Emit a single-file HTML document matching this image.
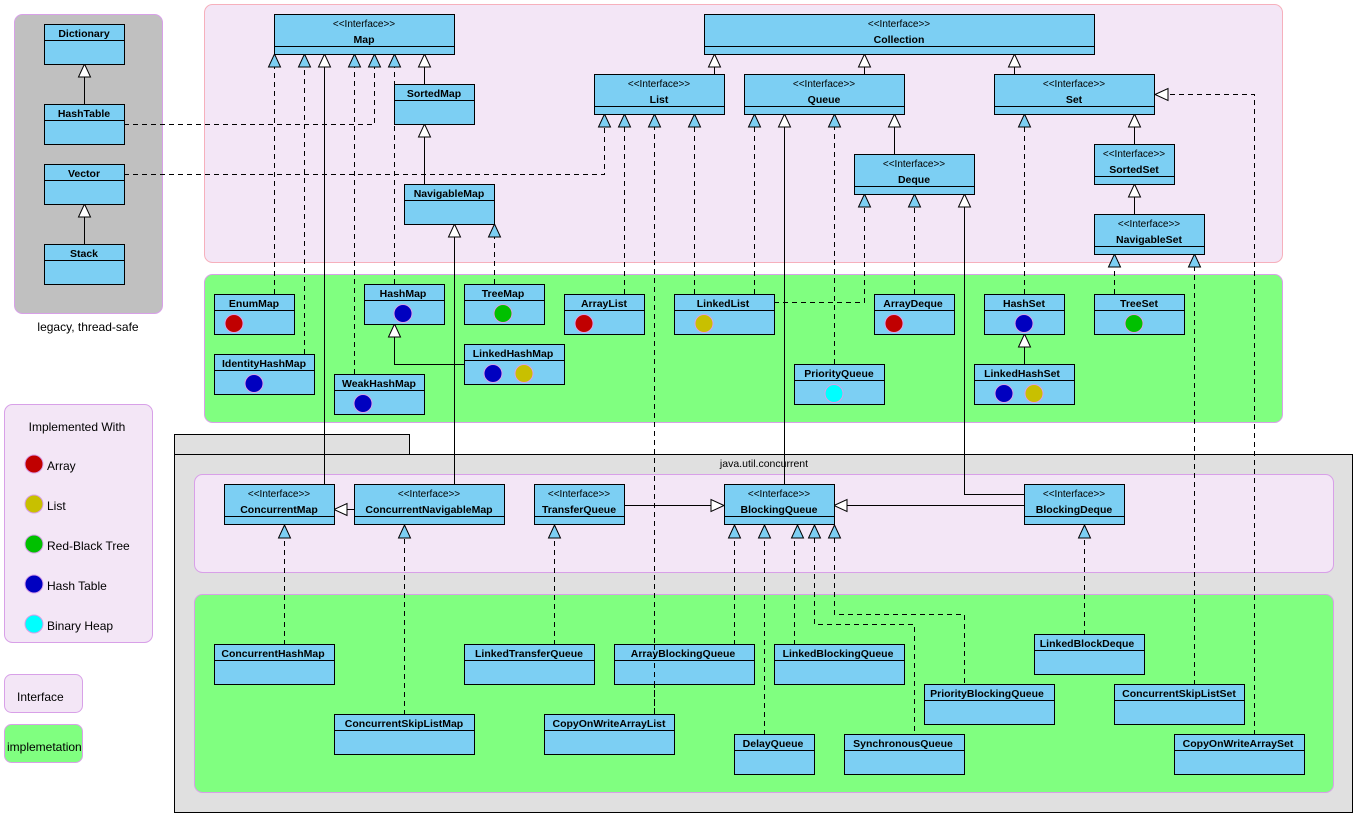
<!DOCTYPE html>
<html><head><meta charset="utf-8"><style>
html,body{margin:0;padding:0;background:#fff;}
svg{display:block;font-family:"Liberation Sans",sans-serif;}
.b{fill:#7ccff3;stroke:#000;stroke-width:1;}
.n{font-size:10.5px;font-weight:bold;text-anchor:middle;fill:#000;}
.s{font-size:10px;text-anchor:middle;fill:#000;}
.d{stroke:#000;fill:none;stroke-dasharray:5,4;}
.l{stroke:#000;fill:none;}
.tw{fill:#fff;stroke:#000;}
.tb{fill:#7ccff3;stroke:#000;}
.lg{font-size:12px;fill:#000;}
</style></head><body>
<svg width="1359" height="820" viewBox="0 0 1359 820" xmlns="http://www.w3.org/2000/svg">
<rect x="14.5" y="14.5" width="148" height="299" rx="8" fill="#c0c0c0" stroke="#d8a0e8"/>
<text x="88" y="331" class="lg" text-anchor="middle">legacy, thread-safe</text>
<rect x="204.5" y="4.5" width="1078" height="258" rx="8" fill="#f3e6f6" stroke="#f6b0bc"/>
<rect x="204.5" y="274.5" width="1078" height="148" rx="8" fill="#80ff80" stroke="#d8a0e8"/>
<rect x="4.5" y="404.5" width="148" height="238" rx="8" fill="#f3e6f6" stroke="#d8a0e8"/>
<text x="77" y="431" class="lg" text-anchor="middle">Implemented With</text>
<circle cx="34" cy="464" r="9" fill="#c00000" stroke="#d8a0e8"/><text x="47" y="470" class="lg">Array</text>
<circle cx="34" cy="504" r="9" fill="#c8c000" stroke="#d8a0e8"/><text x="47" y="510" class="lg">List</text>
<circle cx="34" cy="544" r="9" fill="#00c000" stroke="#d8a0e8"/><text x="47" y="550" class="lg">Red-Black Tree</text>
<circle cx="34" cy="584" r="9" fill="#0000c0" stroke="#d8a0e8"/><text x="47" y="590" class="lg">Hash Table</text>
<circle cx="34" cy="624" r="9" fill="#00ffff" stroke="#d8a0e8"/><text x="47" y="630" class="lg">Binary Heap</text>
<rect x="4.5" y="674.5" width="78" height="38" rx="7" fill="#f3e6f6" stroke="#d8a0e8"/>
<text x="17" y="701" class="lg">Interface</text>
<rect x="4.5" y="724.5" width="78" height="38" rx="7" fill="#80ff80" stroke="#d8a0e8"/>
<text x="7" y="751" class="lg">implemetation</text>
<rect x="174.5" y="434.5" width="235" height="20" fill="#e0e0e0" stroke="#000"/>
<rect x="174.5" y="454.5" width="1178" height="358" fill="#e0e0e0" stroke="#000"/>
<text x="764" y="467" font-size="10.5" text-anchor="middle">java.util.concurrent</text>
<rect x="194.5" y="474.5" width="1139" height="98" rx="8" fill="#f3e6f6" stroke="#d8a0e8"/>
<rect x="194.5" y="594.5" width="1139" height="198" rx="8" fill="#80ff80" stroke="#d8a0e8"/>

<g>
<path class="l" d="M84.5 77V104M84.5 217V244"/>
<path class="d" d="M124 124.5H374.5V67"/>
<path class="d" d="M124 174.5H604.5V127"/>
<path class="d" d="M274.5 294V67M304.5 354V67M354.5 374V67M394.5 284V67"/>
<path class="l" d="M324.5 485V67M424.5 84V67M424.5 184V137M454.5 485V237"/>
<path class="d" d="M494.5 284V237"/>
<path class="l" d="M464 364.5H394.5V337"/>
<path class="l" d="M714.5 74V67M864.5 74V67M1014.5 74V67"/>
<path class="d" d="M624.5 294V127M654.5 715V127M694.5 294V127M754.5 294V127"/>
<path class="d" d="M774 302.5H864.5V207"/>
<path class="l" d="M784.5 485V127M894.5 154V127"/>
<path class="d" d="M834.5 364V127M914.5 294V207"/>
<path class="l" d="M1024 494.5H964.5V207"/>
<path class="d" d="M1024.5 294V127"/>
<path class="l" d="M1024.5 364V347M1134.5 144V127M1134.5 214V197"/>
<path class="d" d="M1114.5 294V267M1194.5 685V267"/>
<path class="d" d="M1254.5 735V94.5H1168"/>
<path class="l" d="M354 509.5H347M624 505.5H711M1024 505.5H847"/>
<path class="d" d="M284.5 645V538M404.5 715V538M554.5 645V538M734.5 645V538M764.5 735V538M794.5 645V538"/>
<path class="d" d="M814.5 538V624.5H914.5V735"/>
<path class="d" d="M834.5 538V614.5H964.5V685"/>
<path class="d" d="M1084.5 635V538"/>
</g>
<g>
<path class="tw" d="M84.5 64L78.5 77H90.5Z"/>
<path class="tw" d="M84.5 204L78.5 217H90.5Z"/>
<path class="tb" d="M274.5 54L268.5 67H280.5Z"/>
<path class="tb" d="M304.5 54L298.5 67H310.5Z"/>
<path class="tw" d="M324.5 54L318.5 67H330.5Z"/>
<path class="tb" d="M354.5 54L348.5 67H360.5Z"/>
<path class="tb" d="M374.5 54L368.5 67H380.5Z"/>
<path class="tb" d="M394.5 54L388.5 67H400.5Z"/>
<path class="tw" d="M424.5 54L418.5 67H430.5Z"/>
<path class="tw" d="M424.5 124L418.5 137H430.5Z"/>
<path class="tw" d="M454.5 224L448.5 237H460.5Z"/>
<path class="tb" d="M494.5 224L488.5 237H500.5Z"/>
<path class="tw" d="M394.5 324L388.5 337H400.5Z"/>
<path class="tw" d="M714.5 54L708.5 67H720.5Z"/>
<path class="tw" d="M864.5 54L858.5 67H870.5Z"/>
<path class="tw" d="M1014.5 54L1008.5 67H1020.5Z"/>
<path class="tb" d="M604.5 114L598.5 127H610.5Z"/>
<path class="tb" d="M624.5 114L618.5 127H630.5Z"/>
<path class="tb" d="M654.5 114L648.5 127H660.5Z"/>
<path class="tb" d="M694.5 114L688.5 127H700.5Z"/>
<path class="tb" d="M754.5 114L748.5 127H760.5Z"/>
<path class="tw" d="M784.5 114L778.5 127H790.5Z"/>
<path class="tb" d="M834.5 114L828.5 127H840.5Z"/>
<path class="tw" d="M894.5 114L888.5 127H900.5Z"/>
<path class="tb" d="M864.5 194L858.5 207H870.5Z"/>
<path class="tb" d="M914.5 194L908.5 207H920.5Z"/>
<path class="tw" d="M964.5 194L958.5 207H970.5Z"/>
<path class="tb" d="M1024.5 114L1018.5 127H1030.5Z"/>
<path class="tw" d="M1134.5 114L1128.5 127H1140.5Z"/>
<path class="tw" d="M1134.5 184L1128.5 197H1140.5Z"/>
<path class="tb" d="M1114.5 254L1108.5 267H1120.5Z"/>
<path class="tb" d="M1194.5 254L1188.5 267H1200.5Z"/>
<path class="tw" d="M1024.5 334L1018.5 347H1030.5Z"/>
<path class="tw" d="M1155 94.5L1168 88.5V100.5Z"/>
<path class="tw" d="M334 509.5L347 503.5V515.5Z"/>
<path class="tw" d="M724 505.5L711 499.5V511.5Z"/>
<path class="tw" d="M834 505.5L847 499.5V511.5Z"/>
<path class="tb" d="M284.5 525L278.5 538H290.5Z"/>
<path class="tb" d="M404.5 525L398.5 538H410.5Z"/>
<path class="tb" d="M554.5 525L548.5 538H560.5Z"/>
<path class="tb" d="M734.5 525L728.5 538H740.5Z"/>
<path class="tb" d="M764.5 525L758.5 538H770.5Z"/>
<path class="tb" d="M797.5 525L791.5 538H803.5Z"/>
<path class="tb" d="M814.5 525L808.5 538H820.5Z"/>
<path class="tb" d="M834.5 525L828.5 538H840.5Z"/>
<path class="tb" d="M1084.5 525L1078.5 538H1090.5Z"/>
</g>

<g>
<rect class="b" x="274.5" y="14.5" width="180" height="40"/><path class="l" d="M274.5 46.5H454.5"/><text class="s" x="364" y="27">&lt;&lt;Interface&gt;&gt;</text><text class="n" x="364" y="43">Map</text>
<rect class="b" x="704.5" y="14.5" width="390" height="40"/><path class="l" d="M704.5 46.5H1094.5"/><text class="s" x="899" y="27">&lt;&lt;Interface&gt;&gt;</text><text class="n" x="899" y="43">Collection</text>
<rect class="b" x="594.5" y="74.5" width="130" height="40"/><path class="l" d="M594.5 106.5H724.5"/><text class="s" x="659" y="87">&lt;&lt;Interface&gt;&gt;</text><text class="n" x="659" y="103">List</text>
<rect class="b" x="744.5" y="74.5" width="160" height="40"/><path class="l" d="M744.5 106.5H904.5"/><text class="s" x="824" y="87">&lt;&lt;Interface&gt;&gt;</text><text class="n" x="824" y="103">Queue</text>
<rect class="b" x="994.5" y="74.5" width="160" height="40"/><path class="l" d="M994.5 106.5H1154.5"/><text class="s" x="1074" y="87">&lt;&lt;Interface&gt;&gt;</text><text class="n" x="1074" y="103">Set</text>
<rect class="b" x="854.5" y="154.5" width="120" height="40"/><path class="l" d="M854.5 186.5H974.5"/><text class="s" x="914" y="167">&lt;&lt;Interface&gt;&gt;</text><text class="n" x="914" y="183">Deque</text>
<rect class="b" x="1094.5" y="144.5" width="80" height="40"/><path class="l" d="M1094.5 176.5H1174.5"/><text class="s" x="1134" y="157">&lt;&lt;Interface&gt;&gt;</text><text class="n" x="1134" y="173">SortedSet</text>
<rect class="b" x="1094.5" y="214.5" width="110" height="40"/><path class="l" d="M1094.5 246.5H1204.5"/><text class="s" x="1149" y="227">&lt;&lt;Interface&gt;&gt;</text><text class="n" x="1149" y="243">NavigableSet</text>
<rect class="b" x="224.5" y="484.5" width="110" height="40"/><path class="l" d="M224.5 516.5H334.5"/><text class="s" x="279" y="497">&lt;&lt;Interface&gt;&gt;</text><text class="n" x="279" y="513">ConcurrentMap</text>
<rect class="b" x="354.5" y="484.5" width="150" height="40"/><path class="l" d="M354.5 516.5H504.5"/><text class="s" x="429" y="497">&lt;&lt;Interface&gt;&gt;</text><text class="n" x="429" y="513">ConcurrentNavigableMap</text>
<rect class="b" x="534.5" y="484.5" width="90" height="40"/><path class="l" d="M534.5 516.5H624.5"/><text class="s" x="579" y="497">&lt;&lt;Interface&gt;&gt;</text><text class="n" x="579" y="513">TransferQueue</text>
<rect class="b" x="724.5" y="484.5" width="110" height="40"/><path class="l" d="M724.5 516.5H834.5"/><text class="s" x="779" y="497">&lt;&lt;Interface&gt;&gt;</text><text class="n" x="779" y="513">BlockingQueue</text>
<rect class="b" x="1024.5" y="484.5" width="100" height="40"/><path class="l" d="M1024.5 516.5H1124.5"/><text class="s" x="1074" y="497">&lt;&lt;Interface&gt;&gt;</text><text class="n" x="1074" y="513">BlockingDeque</text>
</g>

<g>
<rect class="b" x="44.5" y="24.5" width="80" height="40"/><path class="l" d="M44.5 40.5H124.5"/><text class="n" x="84" y="37">Dictionary</text>
<rect class="b" x="44.5" y="104.5" width="80" height="40"/><path class="l" d="M44.5 120.5H124.5"/><text class="n" x="84" y="117">HashTable</text>
<rect class="b" x="44.5" y="164.5" width="80" height="40"/><path class="l" d="M44.5 180.5H124.5"/><text class="n" x="84" y="177">Vector</text>
<rect class="b" x="44.5" y="244.5" width="80" height="40"/><path class="l" d="M44.5 260.5H124.5"/><text class="n" x="84" y="257">Stack</text>
<rect class="b" x="394.5" y="84.5" width="80" height="40"/><path class="l" d="M394.5 100.5H474.5"/><text class="n" x="434" y="97">SortedMap</text>
<rect class="b" x="404.5" y="184.5" width="90" height="40"/><path class="l" d="M404.5 200.5H494.5"/><text class="n" x="449" y="197">NavigableMap</text>

<rect class="b" x="214.5" y="294.5" width="80" height="40"/><path class="l" d="M214.5 310.5H294.5"/><text class="n" x="254" y="307">EnumMap</text><circle cx="234" cy="323.5" r="9" fill="#c00000" stroke="#d8a0e8"/>
<rect class="b" x="214.5" y="354.5" width="100" height="40"/><path class="l" d="M214.5 370.5H314.5"/><text class="n" x="264" y="367">IdentityHashMap</text><circle cx="254" cy="383.5" r="9" fill="#0000c0" stroke="#d8a0e8"/>
<rect class="b" x="334.5" y="374.5" width="90" height="40"/><path class="l" d="M334.5 390.5H424.5"/><text class="n" x="379" y="387">WeakHashMap</text><circle cx="363" cy="403.5" r="9" fill="#0000c0" stroke="#d8a0e8"/>
<rect class="b" x="364.5" y="284.5" width="80" height="40"/><path class="l" d="M364.5 300.5H444.5"/><text class="n" x="403" y="297">HashMap</text><circle cx="403" cy="313.5" r="9" fill="#0000c0" stroke="#d8a0e8"/>
<rect class="b" x="464.5" y="284.5" width="80" height="40"/><path class="l" d="M464.5 300.5H544.5"/><text class="n" x="503" y="297">TreeMap</text><circle cx="503" cy="313.5" r="9" fill="#00c000" stroke="#d8a0e8"/>
<rect class="b" x="464.5" y="344.5" width="100" height="40"/><path class="l" d="M464.5 360.5H564.5"/><text class="n" x="513" y="357">LinkedHashMap</text><circle cx="493" cy="373.5" r="9" fill="#0000c0" stroke="#d8a0e8"/><circle cx="524" cy="373.5" r="9" fill="#c8c000" stroke="#d8a0e8"/>
<rect class="b" x="564.5" y="294.5" width="80" height="40"/><path class="l" d="M564.5 310.5H644.5"/><text class="n" x="604" y="307">ArrayList</text><circle cx="584" cy="323.5" r="9" fill="#c00000" stroke="#d8a0e8"/>
<rect class="b" x="674.5" y="294.5" width="100" height="40"/><path class="l" d="M674.5 310.5H774.5"/><text class="n" x="723" y="307">LinkedList</text><circle cx="704" cy="323.5" r="9" fill="#c8c000" stroke="#d8a0e8"/>
<rect class="b" x="874.5" y="294.5" width="80" height="40"/><path class="l" d="M874.5 310.5H954.5"/><text class="n" x="913" y="307">ArrayDeque</text><circle cx="894" cy="323.5" r="9" fill="#c00000" stroke="#d8a0e8"/>
<rect class="b" x="794.5" y="364.5" width="90" height="40"/><path class="l" d="M794.5 380.5H884.5"/><text class="n" x="839" y="377">PriorityQueue</text><circle cx="834" cy="393.5" r="9" fill="#00ffff" stroke="#d8a0e8"/>
<rect class="b" x="984.5" y="294.5" width="80" height="40"/><path class="l" d="M984.5 310.5H1064.5"/><text class="n" x="1024" y="307">HashSet</text><circle cx="1024" cy="323.5" r="9" fill="#0000c0" stroke="#d8a0e8"/>
<rect class="b" x="974.5" y="364.5" width="100" height="40"/><path class="l" d="M974.5 380.5H1074.5"/><text class="n" x="1022" y="377">LinkedHashSet</text><circle cx="1004" cy="393.5" r="9" fill="#0000c0" stroke="#d8a0e8"/><circle cx="1034" cy="393.5" r="9" fill="#c8c000" stroke="#d8a0e8"/>
<rect class="b" x="1094.5" y="294.5" width="90" height="40"/><path class="l" d="M1094.5 310.5H1184.5"/><text class="n" x="1139" y="307">TreeSet</text><circle cx="1134" cy="323.5" r="9" fill="#00c000" stroke="#d8a0e8"/>

<rect class="b" x="214.5" y="644.5" width="120" height="40"/><path class="l" d="M214.5 660.5H334.5"/><text class="n" x="273" y="657">ConcurrentHashMap</text>
<rect class="b" x="334.5" y="714.5" width="140" height="40"/><path class="l" d="M334.5 730.5H474.5"/><text class="n" x="404" y="727">ConcurrentSkipListMap</text>
<rect class="b" x="464.5" y="644.5" width="130" height="40"/><path class="l" d="M464.5 660.5H594.5"/><text class="n" x="529" y="657">LinkedTransferQueue</text>
<rect class="b" x="614.5" y="644.5" width="140" height="40"/><path class="l" d="M614.5 660.5H754.5"/><text class="n" x="683" y="657">ArrayBlockingQueue</text>
<rect class="b" x="544.5" y="714.5" width="130" height="40"/><path class="l" d="M544.5 730.5H674.5"/><text class="n" x="609" y="727">CopyOnWriteArrayList</text>
<rect class="b" x="774.5" y="644.5" width="130" height="40"/><path class="l" d="M774.5 660.5H904.5"/><text class="n" x="838" y="657">LinkedBlockingQueue</text>
<rect class="b" x="734.5" y="734.5" width="80" height="40"/><path class="l" d="M734.5 750.5H814.5"/><text class="n" x="773" y="747">DelayQueue</text>
<rect class="b" x="844.5" y="734.5" width="120" height="40"/><path class="l" d="M844.5 750.5H964.5"/><text class="n" x="903" y="747">SynchronousQueue</text>
<rect class="b" x="924.5" y="684.5" width="130" height="40"/><path class="l" d="M924.5 700.5H1054.5"/><text class="n" x="987" y="697">PriorityBlockingQueue</text>
<rect class="b" x="1034.5" y="634.5" width="110" height="40"/><path class="l" d="M1034.5 650.5H1144.5"/><text class="n" x="1087" y="647">LinkedBlockDeque</text>
<rect class="b" x="1114.5" y="684.5" width="130" height="40"/><path class="l" d="M1114.5 700.5H1244.5"/><text class="n" x="1179" y="697">ConcurrentSkipListSet</text>
<rect class="b" x="1174.5" y="734.5" width="130" height="40"/><path class="l" d="M1174.5 750.5H1304.5"/><text class="n" x="1238" y="747">CopyOnWriteArraySet</text>
</g>
<path class="d" d="M654.5 645V715"/>
</svg>
</body></html>
